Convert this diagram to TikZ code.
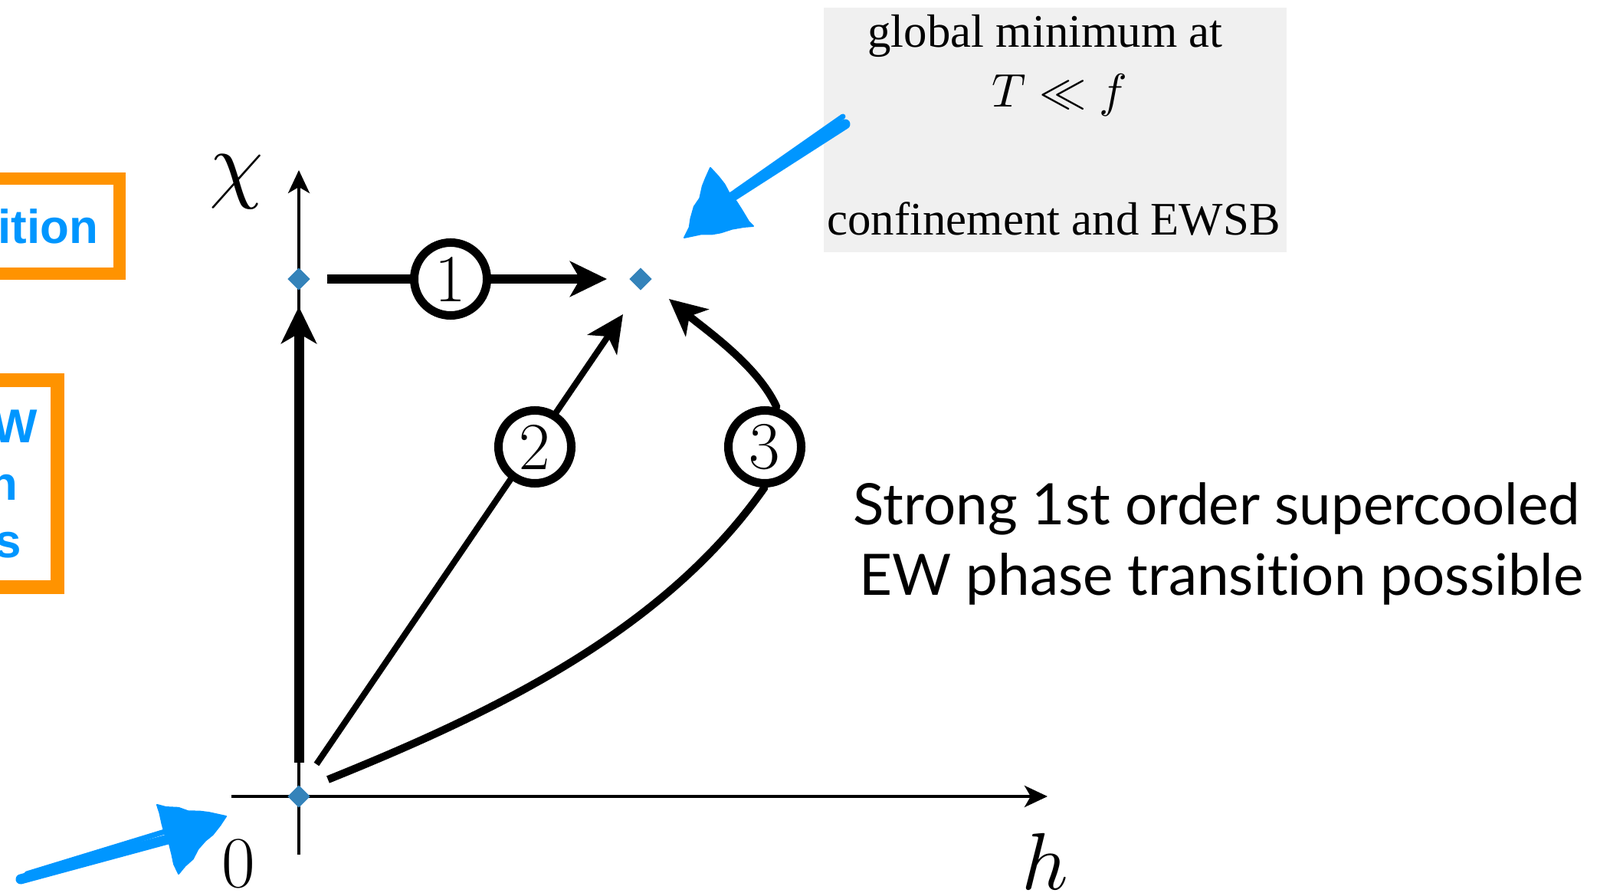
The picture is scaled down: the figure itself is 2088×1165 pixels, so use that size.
\documentclass[tikz,border=0pt]{standalone}
\usepackage{fontspec}
\DeclareFontShape{OML}{cmm}{m}{it}{<->cmmi10}{}
\DeclareFontShape{OMS}{cmsy}{m}{n}{<->cmsy10}{}
\usetikzlibrary{arrows.meta,shapes.geometric,decorations.pathmorphing}
\newfontfamily\gillfont{Lato}[Ligatures=NoCommon]
\newfontfamily\serffont{Liberation Serif}
\newfontfamily\helvfont{Liberation Sans}
\definecolor{dblue}{HTML}{3483BA}
\definecolor{sblue}{HTML}{0096FF}
\definecolor{sorange}{HTML}{FF9300}
\definecolor{boxgray}{HTML}{F0F0F0}
\begin{document}
\begin{tikzpicture}[x=0.01cm,y=-0.01cm,
  axisline/.style={line width=0.04cm,-{Stealth[length=0.3cm,width=0.28cm,inset=0.08cm]}},
  patharrow/.style={line width=#1,-{Stealth[length=0.48cm,width=0.46cm,inset=0.13cm]}},
  vmin/.style={diamond,fill=dblue,minimum size=0.3cm,inner sep=0pt},
  numcirc/.style={circle,draw,fill=white,line width=0.11cm,minimum size=0.95cm,inner sep=0pt,font=\fontsize{25}{30}\selectfont},
  bluetxt/.style={anchor=base east,inner sep=0pt,text=sblue,font=\helvfont\bfseries\fontsize{17.6}{21}\selectfont},
  orangebox/.style={draw=sorange,line width=#1},
  serftxt/.style={anchor=base,inner sep=0pt,font=\serffont\fontsize{17.3}{20}\selectfont},
  gilltxt/.style={anchor=base,inner sep=0pt,font=\gillfont\fontsize{21.2}{25}\selectfont},
  sketch/.style={sblue,line width=0.13cm,line cap=round},
  sketchhead/.style={fill=sblue,draw=sblue,line width=0.02cm,line join=round,
     decorate,decoration={random steps,segment length=4pt,amplitude=0.6pt}}
]
\useasboundingbox (0,0) rectangle (2088,1165);
\clip (0,0) rectangle (2088,1165);

% left orange boxes (cut off)
\draw[orangebox=0.16cm] (-40,233) rectangle (156,357);
\draw[orangebox=0.18cm] (-40,496) rectangle (75,766);
\node[bluetxt] (t1) at (129,318) {ition};
\node[bluetxt] (t2) at (50,578) {W};
\node[bluetxt] (t3) at (24,653) {n};
\node[bluetxt] (t4) at (29,728) {s};

% grey box
\node[fill=boxgray,minimum width=6.04cm,minimum height=3.19cm,anchor=north west,inner sep=0pt] (gbox) at (1074,9) {};
\node[serftxt] (g1) at (1364,62) {global minimum at};
\node[anchor=base,inner sep=0pt,font=\fontsize{17.5}{20}\selectfont] (g2) at (1383,140) {$T\ll f$};
\node[serftxt] (g3) at (1375,307) {confinement and EWSB};

% axes
\coordinate (O) at (390,1039);
\coordinate (xs) at (302,1039);
\coordinate (xe) at (1367,1039);
\coordinate (ys) at (390,1115);
\coordinate (ye) at (390,222);
\draw[axisline] (xs) -- (xe);
\draw[axisline] (ys) -- (ye);
\node[font=\fontsize{32}{36}\selectfont,inner sep=0pt] (chi) at (309,237) {$\chi$};
\node[anchor=base,font=\fontsize{30}{34}\selectfont,inner sep=0pt] (hl) at (1364,1161) {$h$};
\node[anchor=base,font=\fontsize{27}{30}\selectfont,inner sep=0pt] (zl) at (311,1157) {0};

% paths
\coordinate (v0) at (390,995);
\coordinate (v1) at (390,400);
\draw[patharrow=0.13cm] (v0) -- (v1);

\coordinate (a1s) at (427,364);
\coordinate (a1e) at (792,364);
\draw[patharrow=0.12cm] (a1s) -- (a1e);

\coordinate (a2s) at (413,997);
\coordinate (a2e) at (813,410);
\draw[patharrow=0.08cm] (a2s) -- (a2e);

\coordinate (a3s) at (428,1017);
\coordinate (a3e) at (873,390);
\draw[patharrow=0.10cm] (a3s) .. controls (641,931) and (865,825) .. (997,637)
   -- (1013,530) .. controls (988,476) and (919,429) .. (a3e);

\node[numcirc] (c1) at (588,364) {1};
\node[numcirc] (c2) at (698,583) {2};
\node[numcirc] (c3) at (998,583) {3};

% minima
\node[vmin] (D0) at (O) {};
\node[vmin] (D1) at (390,364) {};
\node[vmin] (D2) at (836,364) {};

% text right
\node[gilltxt] (s1) at (1588,685) {Strong 1st order supercooled};
\node[gilltxt] (s2) at (1594,777) {EW phase transition possible};

% blue hand-drawn arrows
\coordinate (b1t) at (1103,162);
\coordinate (b1b) at (955,257);
\draw[sketch] (b1t) -- (b1b);
\draw[sblue,line width=0.07cm,line cap=round] (1100,152) -- (960,250);
\path[sketchhead] (927,219) -- (983,295) -- (893,310) -- cycle;
\coordinate (b2t) at (27,1147);
\coordinate (b2b) at (219,1095);
\draw[sketch] (b2t) -- (b2b);
\draw[sblue,line width=0.07cm,line cap=round] (35,1140) -- (215,1085);
\path[sketchhead] (205,1050) -- (295,1065) -- (233,1140) -- cycle;
\end{tikzpicture}
\end{document}
